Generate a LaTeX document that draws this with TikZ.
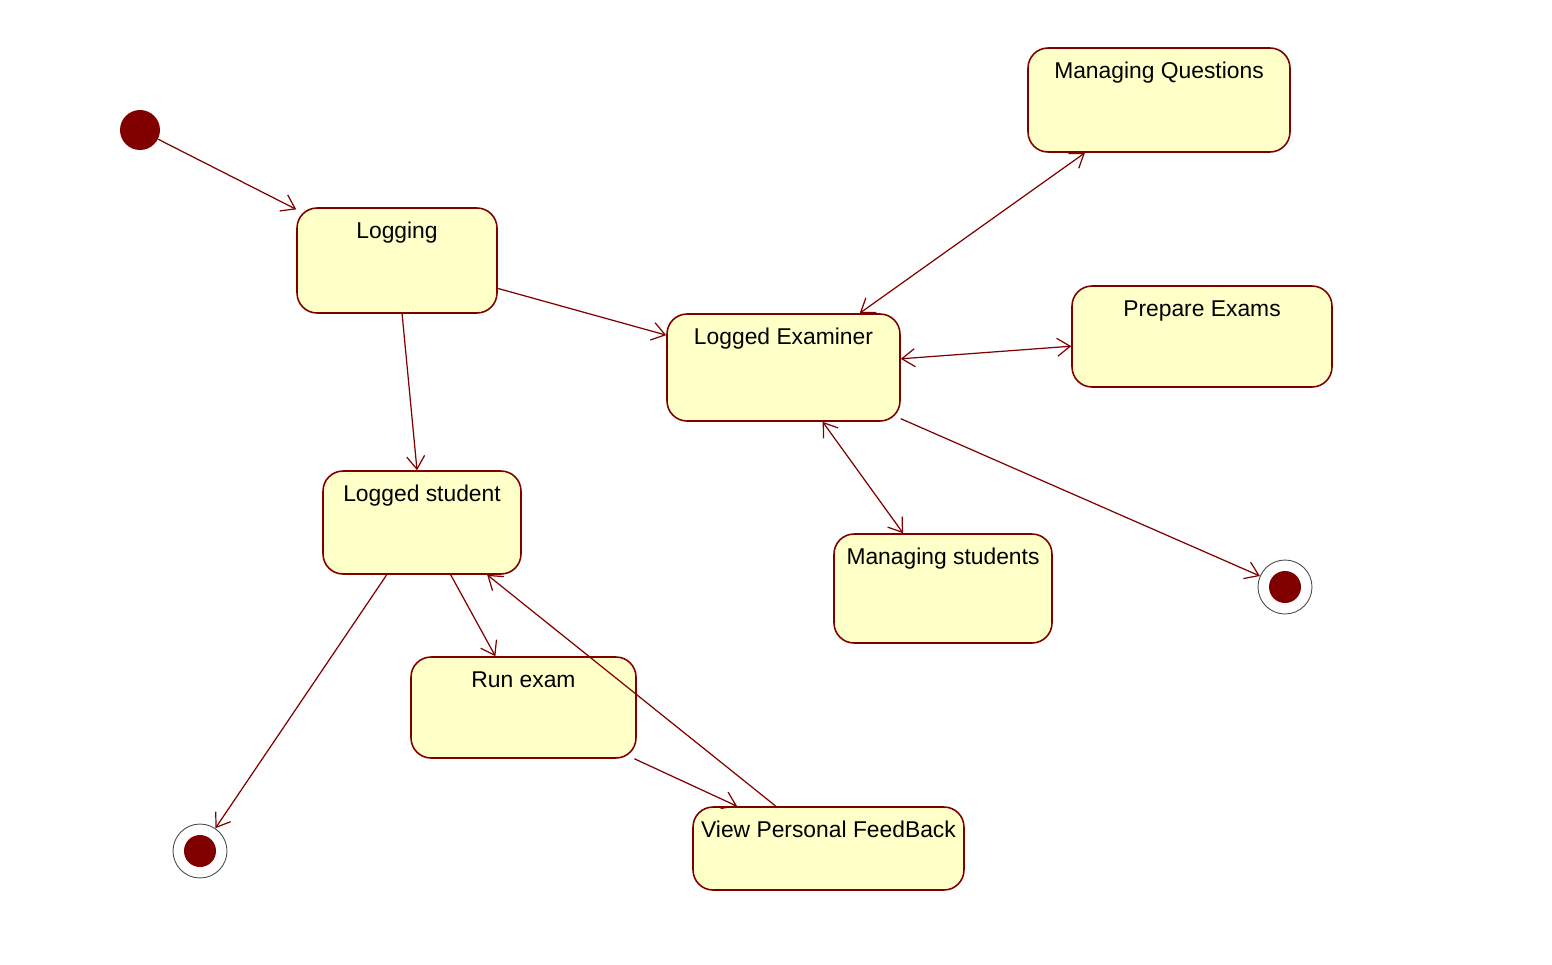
\documentclass[tikz,border=0pt]{standalone}
\usepackage{fontspec}
\setmainfont{Liberation Sans}
\usetikzlibrary{arrows.meta}
\definecolor{umlred}{HTML}{800000}
\definecolor{umlfill}{HTML}{FFFFC8}

\begin{document}
\begin{tikzpicture}[
    x=0.02cm, y=-0.02cm,
    trans/.tip={Straight Barb[length=2.6mm,width=3.6mm]},
    mystyle/.style={umlred, line width=0.7pt},
    state/.style={draw=umlred, fill=umlfill, line width=0.9pt, rounded corners=0.4cm, inner sep=0pt},
    title/.style={anchor=base, yshift=-0.62cm, inner sep=0pt, font=\fontsize{13}{15}\selectfont},
    initial/.style={circle, fill=umlred, minimum size=0.8cm, inner sep=0pt},
    final/.style={circle, draw=black!70, fill=white, line width=0.5pt, minimum size=1.08cm, inner sep=0pt,
        path picture={\fill[umlred] (path picture bounding box.center) circle (0.32cm);}},
]
    \path[use as bounding box, fill=white] (0,0) rectangle (1552,964);

    \node[initial] (init) at (140,130) {};
    \node[final] (end1) at (200,851) {};
    \node[final] (end2) at (1285,587) {};

    \node[state, minimum width=4cm, minimum height=2.1cm, label={[title]north:Logging}] (logging) at (397,260.5) {};
    \node[state, minimum width=4.66cm, minimum height=2.14cm, label={[title]north:Logged Examiner}] (examiner) at (783.5,367.5) {};
    \node[state, minimum width=5.24cm, minimum height=2.08cm, label={[title]north:Managing Questions}] (questions) at (1159,100) {};
    \node[state, minimum width=5.2cm, minimum height=2.02cm, label={[title]north:Prepare Exams}] (exams) at (1202,336.5) {};
    \node[state, minimum width=3.96cm, minimum height=2.06cm, label={[title]north:Logged student}] (student) at (422,522.5) {};
    \node[state, minimum width=4.36cm, minimum height=2.18cm, label={[title]north:Managing students}] (students) at (943,588.5) {};
    \node[state, minimum width=4.5cm, minimum height=2.02cm, label={[title]north:Run exam}] (runexam) at (523.5,707.5) {};
    \node[state, minimum width=5.42cm, minimum height=1.66cm, label={[title]north:View Personal FeedBack}] (feedback) at (828.5,848.5) {};

    \draw[-trans,mystyle] (init) -- (logging);
    \draw[-trans,mystyle] (logging) -- (examiner);
    \draw[-trans,mystyle] (logging) -- (student);

    % examiner side
    \draw[trans-trans,mystyle] (examiner) -- (questions);
    \draw[trans-trans,mystyle] (examiner) -- (exams);
    \draw[trans-trans,mystyle] (examiner) -- (students);
    \draw[-trans,mystyle] (examiner) -- (end2);

    % student side
    \draw[-trans,mystyle] (student) -- (end1);
    \draw[-trans,mystyle] (student) -- (runexam);
    \draw[-trans,mystyle] (runexam) -- (feedback);
    \draw[-trans,mystyle] (feedback) -- (student);
\end{tikzpicture}
\end{document}
